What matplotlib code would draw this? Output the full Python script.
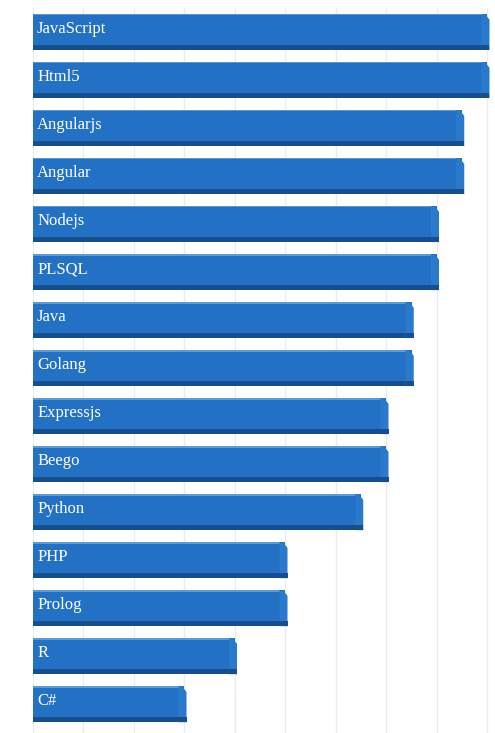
import matplotlib.pyplot as plt
from matplotlib.patches import Polygon

# Data
languages = ['JavaScript', 'Html5', 'Angularjs', 'Angular', 'Nodejs', 'PLSQL',
             'Java', 'Golang', 'Expressjs', 'Beego', 'Python', 'PHP',
             'Prolog', 'R', 'C#']
scores = [9, 9, 8.5, 8.5, 8, 8, 7.5, 7.5, 7, 7, 6.5, 5, 5, 4, 3]

face_color = '#2271c4'
dark_color = '#174f8c'
bevel_color = '#2a7acc'

fig = plt.figure(figsize=(4.95, 7.33), dpi=100)
ax = fig.add_axes([33 / 495, 0, 457 / 495, 725 / 733])

bar_h = 0.75
for i, (name, v) in enumerate(zip(languages, scores)):
    top = i - bar_h / 2
    bottom = i + bar_h / 2
    # main face
    ax.barh(i, v, height=bar_h, color=face_color, edgecolor='none', zorder=3)
    # thin light top edge
    ax.barh(top + 0.015, v - 0.1, height=0.03, color='#5a9ad8', edgecolor='none', zorder=4)
    # darker lower strip (3d depth)
    ax.barh(bottom - 0.05, v, height=0.1, color=dark_color, edgecolor='none', zorder=4)
    # bevelled right end
    ax.add_patch(Polygon([(v - 0.12, top), (v - 0.05, top), (v + 0.04, top + 0.12),
                          (v + 0.04, bottom), (v - 0.12, bottom)],
                         closed=True, color=bevel_color, zorder=4, lw=0))
    ax.add_patch(Polygon([(v - 0.12, bottom - 0.1), (v + 0.04, bottom - 0.1),
                          (v + 0.04, bottom), (v - 0.12, bottom)],
                         closed=True, color=dark_color, zorder=5, lw=0))
    ax.text(0.08, i - 0.06, name, color='white', fontsize=12, family='Liberation Serif',
            va='center', ha='left', zorder=6)

ax.set_xlim(0, 9.05)
ax.set_ylim(14.6, -0.5)
ax.set_xticks(range(0, 10))
ax.grid(axis='x', color='#ececec', linewidth=1, zorder=0)
ax.tick_params(left=False, bottom=False, labelleft=False, labelbottom=False)
for s in ax.spines.values():
    s.set_visible(False)

fig.savefig('out.png', dpi=100)
